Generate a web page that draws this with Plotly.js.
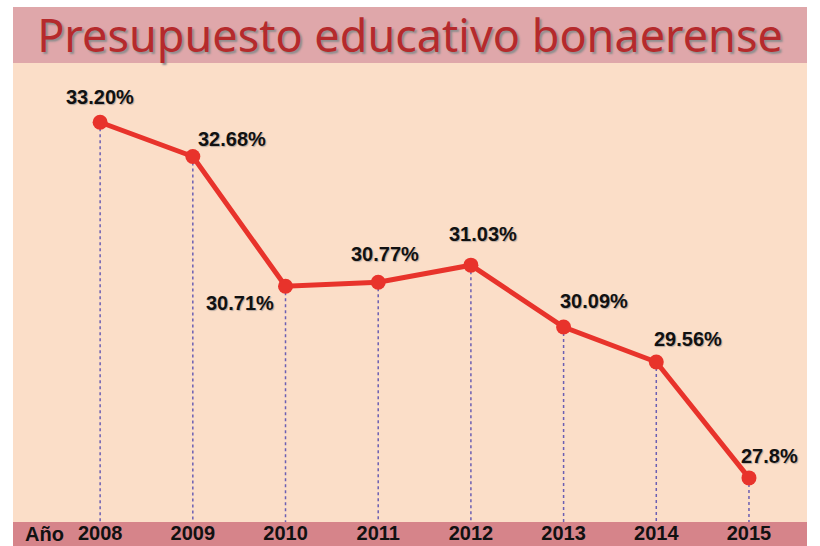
<!DOCTYPE html>
<html>
<head>
<meta charset="utf-8">
<script src="https://cdn.plot.ly/plotly-3.0.1.min.js"></script>
<style>html,body{margin:0;padding:0;background:#fff;}</style>
</head>
<body>
<div id="chart" style="width:820px;height:546px;"></div>
<script>
// Data
const years = [2008, 2009, 2010, 2011, 2012, 2013, 2014, 2015];
const tickLabels = ['2008', '2009', '2010', '2011', '2012', '2013', '2014', '2015'];
const values = [33.20, 32.68, 30.71, 30.77, 31.03, 30.09, 29.56, 27.8];
const valueLabels = ['33.20%', '32.68%', '30.71%', '30.77%', '31.03%', '30.09%', '29.56%', '27.8%'];

// Label placement (styling)
const labelDX = [0, 39, -46, 7, 12, 30, 32, 21];
const labelDY = [25, 18, -17, 28, 31, 26, 23, 22];

const yMin = 27.13, yMax = 34.1;

// Drop lines from each point down to the axis
const dropX = [], dropY = [];
years.forEach((yr, i) => {
  dropX.push(yr, yr, null);
  dropY.push(values[i], yMin, null);
});

const traces = [
  {
    x: dropX, y: dropY, type: 'scatter', mode: 'lines',
    line: {color: '#6b5fb3', width: 1.5, dash: 'dot'},
    hoverinfo: 'skip', showlegend: false
  },
  {
    x: years, y: values, type: 'scatter', mode: 'lines+markers',
    line: {color: '#e8332b', width: 5},
    marker: {color: '#e8332b', size: 15},
    showlegend: false
  }
];

const annotations = years.map((yr, i) => ({
  x: yr, y: values[i], xref: 'x', yref: 'y',
  text: valueLabels[i], showarrow: false,
  xshift: labelDX[i], yshift: labelDY[i],
  font: {family: 'Liberation Sans, Arial, sans-serif', size: 20, color: '#111', weight: 'bold', shadow: '1px 1px 1px #b8a9a0'}
}));
annotations.push({
  x: 2007.06, y: 0, xref: 'x', yref: 'paper', yanchor: 'middle', xanchor: 'left',
  text: 'Año', showarrow: false, yshift: -12, xshift: 10,
  font: {family: 'Liberation Sans, Arial, sans-serif', size: 20, color: '#111', weight: 'bold'}
});

const layout = {
  width: 820, height: 546,
  margin: {l: 13, r: 13, t: 63, b: 24},
  paper_bgcolor: '#ffffff',
  plot_bgcolor: '#fbdec8',
  title: {
    text: 'Presupuesto educativo bonaerense',
    x: 0.5, xref: 'paper', xanchor: 'center',
    y: 1 - 36 / 546, yref: 'container', yanchor: 'middle',
    font: {family: 'Noto Sans, sans-serif', size: 45, color: '#b52a2c', shadow: '2px 2px 2px #8d8d8d'}
  },
  xaxis: {
    range: [2007.06, 2015.626],
    tickmode: 'array', tickvals: years, ticktext: tickLabels,
    showgrid: false, zeroline: false, showline: false, ticks: '',
    ticklabelstandoff: -3,
    tickfont: {family: 'Liberation Sans, Arial, sans-serif', size: 20, color: '#111', weight: 'bold'},
    fixedrange: true
  },
  yaxis: {
    range: [yMin, yMax], visible: false, showgrid: false, zeroline: false, fixedrange: true
  },
  shapes: [
    {type: 'rect', xref: 'paper', yref: 'paper', x0: 0, x1: 1, y0: 1, y1: 1.122,
     fillcolor: '#dfa7aa', line: {width: 0}, layer: 'below'},
    {type: 'rect', xref: 'paper', yref: 'paper', x0: 0, x1: 1, y0: -0.07, y1: 0,
     fillcolor: '#d6848a', line: {width: 0}, layer: 'below'}
  ],
  annotations: annotations,
  showlegend: false
};

Plotly.newPlot('chart', traces, layout, {displayModeBar: false, staticPlot: true});
</script>
</body>
</html>
